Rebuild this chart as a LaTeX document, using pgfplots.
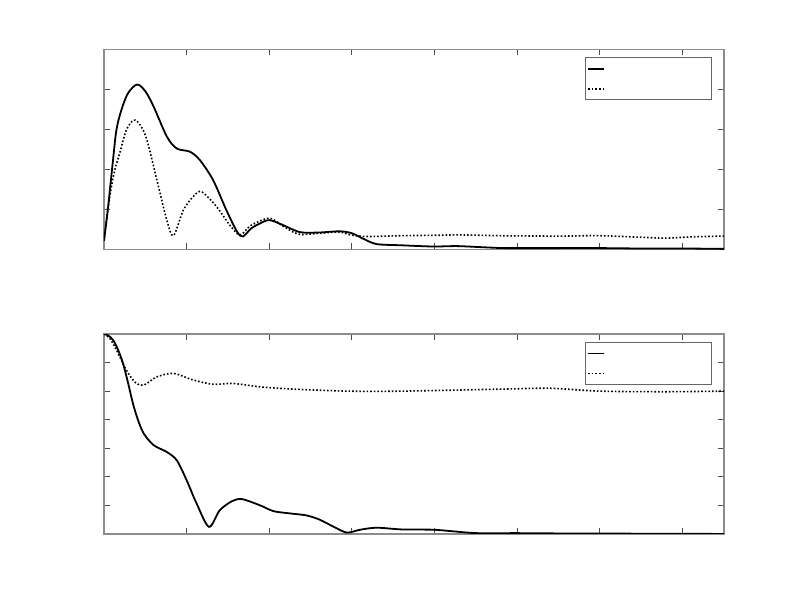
\documentclass[border=0pt]{standalone}
\usepackage{pgfplots}
\pgfplotsset{compat=1.18}

\pgfplotsset{
  panel/.style={
    scale only axis,
    width=310pt, height=100pt,
    anchor=north west,
    xmin=0, xmax=7.5,
    xtick={0,1,...,7},
    xticklabels={}, yticklabels={},
    tick align=inside,
    major tick length=3pt,
    axis line style={black!45, line width=0.6pt},
    every tick/.style={black!70, line width=0.5pt},
    legend style={at={(0.98,0.96)}, anchor=north east, draw=black!60,
      line width=0.5pt, inner xsep=1pt, inner ysep=0.5pt,
      row sep=0pt, nodes={inner sep=0pt, minimum height=10pt}},
    legend image code/.code={\draw[#1] (0pt,0pt) -- (8pt,0pt);},
  },
  sol/.style={black, line width=0.9pt, smooth},
  dot/.style={black, line width=0.8pt, densely dotted, smooth},
}

\begin{document}
\begin{tikzpicture}
\path (0,0) rectangle (400pt,-300pt);

% upper panel
\begin{axis}[panel, at={(52pt,-24.65pt)}, ymin=0, ymax=5, ytick={0,1,...,5}]
\addplot[sol] coordinates {
 (0,0.21) (0.05,1.07) (0.105,2.15) (0.15,2.98) (0.21,3.48) (0.29,3.9)
 (0.40,4.12) (0.50,3.95) (0.60,3.57)
 (0.76,2.82) (0.88,2.52) (1.04,2.44) (1.16,2.23) (1.32,1.73) (1.48,0.98)
 (1.61,0.44) (1.68,0.32) (1.78,0.52) (1.89,0.65) (2.0,0.73) (2.15,0.62)
 (2.37,0.43) (2.6,0.42) (2.85,0.45) (3.0,0.4) (3.15,0.25) (3.3,0.13)
 (3.6,0.1) (3.98,0.07) (4.27,0.08) (4.6,0.05) (4.87,0.03) (5.5,0.03)
 (6.0,0.03) (6.5,0.02) (7.0,0.02) (7.5,0.01)};
\addlegendentry{\hspace*{52pt}}
\addplot[dot] coordinates {
 (0,0.21) (0.07,1.32) (0.13,1.98) (0.19,2.4) (0.27,2.98) (0.36,3.23) (0.44,3.1)
 (0.52,2.73) (0.64,1.73)
 (0.76,0.73) (0.84,0.34) (0.96,0.98) (1.08,1.32) (1.18,1.44) (1.36,1.07)
 (1.52,0.61) (1.645,0.36) (1.78,0.6) (2.0,0.78) (2.15,0.6) (2.35,0.38)
 (2.6,0.4) (2.85,0.43) (3.0,0.35) (3.2,0.32) (3.6,0.34) (4.0,0.35)
 (4.3,0.36) (4.8,0.34) (5.5,0.33) (6.0,0.34) (6.5,0.30) (6.81,0.28)
 (7.1,0.31) (7.5,0.33)};
\addlegendentry{\hspace*{52pt}}
\end{axis}

% lower panel
\begin{axis}[panel, at={(52pt,-167pt)}, ymin=0, ymax=7, ytick={0,1,...,7}]
\addplot[sol] coordinates {
 (0,7.0) (0.05,6.95) (0.11,6.79) (0.17,6.45) (0.23,5.97) (0.29,5.3)
 (0.35,4.57) (0.41,4.0) (0.48,3.52) (0.60,3.11)
 (0.76,2.87) (0.88,2.58) (1.0,1.88) (1.12,1.07) (1.27,0.25) (1.40,0.83)
 (1.55,1.15) (1.67,1.22) (1.89,1.0) (2.05,0.8) (2.25,0.72) (2.45,0.65)
 (2.61,0.5) (2.8,0.22) (2.94,0.05) (3.1,0.15) (3.30,0.22) (3.6,0.16)
 (3.98,0.15) (4.2,0.1) (4.51,0.03) (5.0,0.03) (5.5,0.02) (6.0,0.02)
 (6.5,0.01) (7.0,0.01) (7.5,0.0)};
\addlegendentry{\hspace*{52pt}}
\addplot[dot] coordinates {
 (0,7.0) (0.07,6.85) (0.15,6.44) (0.27,5.74) (0.38,5.3) (0.48,5.21) (0.64,5.5)
 (0.84,5.62) (1.08,5.39) (1.32,5.24) (1.56,5.27) (1.89,5.15) (2.3,5.07)
 (2.95,5.0) (3.6,5.0) (4.8,5.07) (5.4,5.1) (6.0,5.0) (6.8,4.98) (7.5,5.0)};
\addlegendentry{\hspace*{52pt}}
\end{axis}
\end{tikzpicture}
\end{document}
